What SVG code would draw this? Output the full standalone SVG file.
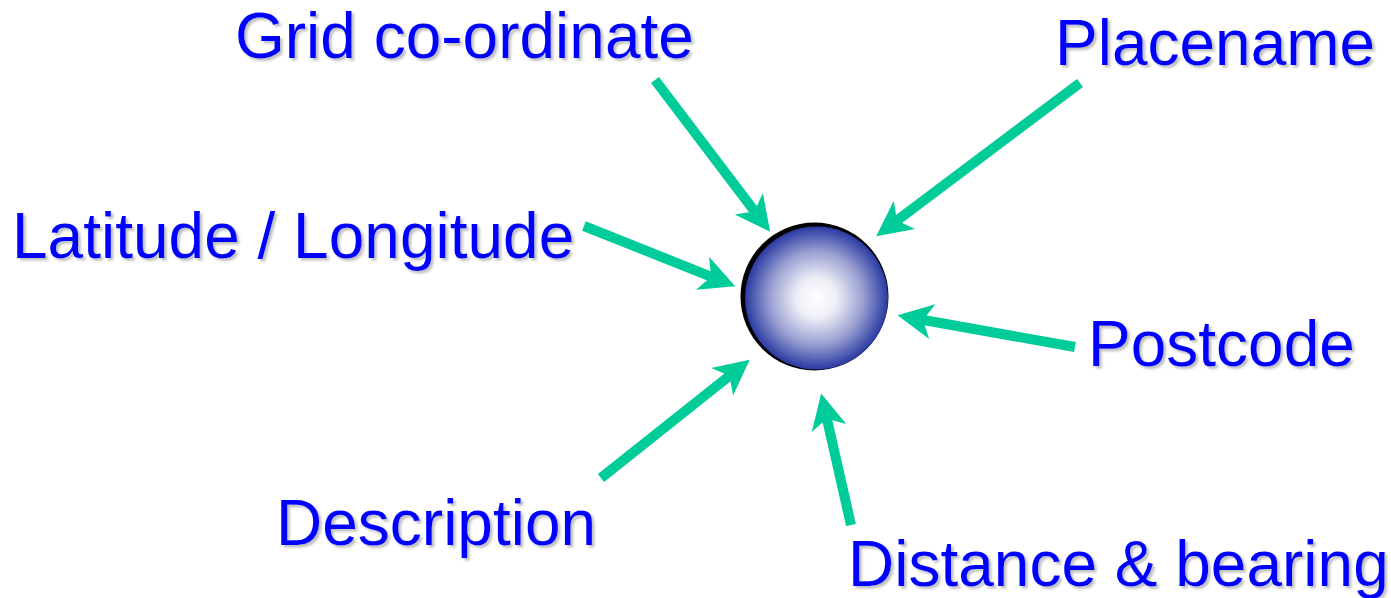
<svg xmlns="http://www.w3.org/2000/svg" width="1391" height="598" viewBox="0 0 1391 598">
<style>
.lbl{font-family:"Liberation Sans",Arial,sans-serif;font-size:64px;fill:#0000FF;filter:url(#sh)}
.arr{stroke:#00CC99;stroke-width:10;fill:none;marker-end:url(#head)}
</style>
<defs>
<filter id="sh" x="-5%" y="-20%" width="115%" height="150%">
<feDropShadow dx="2.5" dy="2.5" stdDeviation="1.2" flood-color="#8a8a8a" flood-opacity="0.55"/>
</filter>
<radialGradient id="ball" cx="0.5" cy="0.5" r="0.5">
<stop offset="0" stop-color="#ffffff"/>
<stop offset="0.28" stop-color="#eeeef7"/>
<stop offset="0.65" stop-color="#9aa0d2"/>
<stop offset="1" stop-color="#2a3aa2"/>
</radialGradient>
<marker id="head" markerUnits="userSpaceOnUse" markerWidth="40" markerHeight="40" refX="0" refY="0" viewBox="-12 -17 34 34" orient="auto" overflow="visible">
<path d="M20,0 L-10,-15 L-2,0 L-10,15 Z" fill="#00CC99"/>
</marker>
</defs>
<g id="connectors">
<line class="arr" x1="655" y1="80" x2="755.9" y2="213.1"/>
<line class="arr" x1="1080" y1="83" x2="895" y2="222"/>
<line class="arr" x1="584" y1="226" x2="713.4" y2="277.6"/>
<line class="arr" x1="1075" y1="347" x2="920.7" y2="319.5"/>
<line class="arr" x1="601" y1="478" x2="731.3" y2="374.4"/>
<line class="arr" x1="851" y1="525" x2="826.4" y2="416.5"/>
</g>
<g id="location">
<circle cx="814.5" cy="296.5" r="74" fill="#000"/>
<circle cx="816.5" cy="298" r="71.5" fill="url(#ball)"/>
</g>
<g id="grid"><text class="lbl" x="235" y="58">Grid co-ordinate</text></g>
<g id="placename"><text class="lbl" x="1055" y="65">Placename</text></g>
<g id="latlong"><text class="lbl" x="12" y="258">Latitude / Longitude</text></g>
<g id="postcode"><text class="lbl" x="1088" y="366">Postcode</text></g>
<g id="description"><text class="lbl" x="276" y="545">Description</text></g>
<g id="distance"><text class="lbl" x="848" y="586">Distance &amp; bearing</text></g>
</svg>
